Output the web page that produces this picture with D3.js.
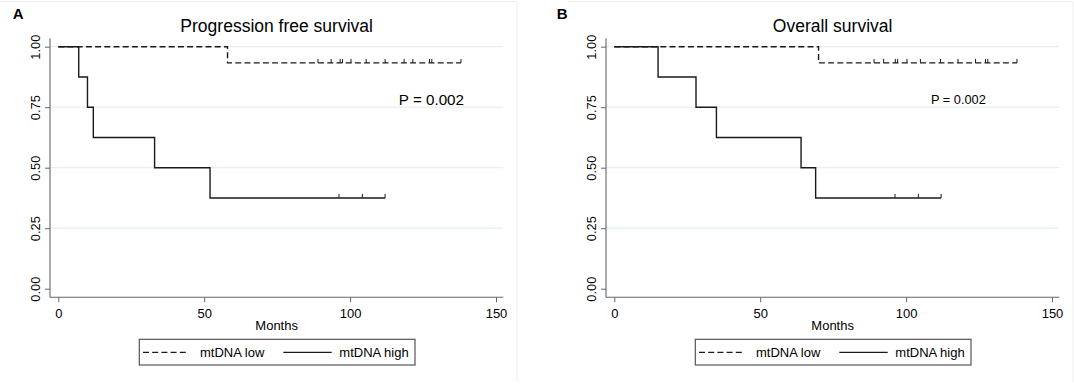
<!DOCTYPE html>
<html>
<head>
<meta charset="utf-8">
<script src="https://cdn.jsdelivr.net/npm/d3@7"></script>
<style>
  html, body { margin: 0; padding: 0; background: #fff; }
  svg { display: block; }
  text { font-family: "Liberation Sans", Arial, sans-serif; fill: #000; }
</style>
</head>
<body>
<svg id="chart" width="1074" height="384"></svg>
<script>
// ---------- DATA ----------
const panelLetters = ["A", "B"];
const panelTitles = ["Progression free survival", "Overall survival"];
const seriesNames = ["mtDNA low", "mtDNA high"];
const xTicks = [0, 50, 100, 150];
const yTicks = [0, 0.25, 0.5, 0.75, 1];
const xLabel = "Months";
const pValueText = "P = 0.002";

// Progression free survival – step times (months) and survival after each step
const pfsLowTimes = [0, 58, 138];
const pfsLowSurv = [1, 0.933, 0.933];
const pfsLowCensored = [89, 93.5, 96.6, 97.4, 100.3, 105.5, 112, 118.5, 121.5, 127.2, 128, 138];
const pfsHighTimes = [0, 7, 10, 12, 33, 52, 112];
const pfsHighSurv = [1, 0.875, 0.75, 0.625, 0.5, 0.375, 0.375];
const pfsHighCensored = [96.2, 104.2, 112];

// Overall survival
const osLowTimes = [0, 70, 138];
const osLowSurv = [1, 0.933, 0.933];
const osLowCensored = [89, 92.3, 96.3, 97.1, 100.3, 104.9, 111.8, 117.8, 123.8, 127.2, 128, 138];
const osHighTimes = [0, 15, 28, 35, 64, 69, 112];
const osHighSurv = [1, 0.875, 0.75, 0.625, 0.5, 0.375, 0.375];
const osHighCensored = [96.2, 104.2, 112];

// ---------- LAYOUT ----------
const svg = d3.select("#chart");
const panelOffsets = [0, 556];
const pAnnot = [ {x: 116.7, y: 0.76, size: 15.2}, {x: 108.5, y: 0.765, size: 12.8} ];

const panels = [
  { low: {t: pfsLowTimes, s: pfsLowSurv, c: pfsLowCensored},
    high: {t: pfsHighTimes, s: pfsHighSurv, c: pfsHighCensored} },
  { low: {t: osLowTimes, s: osLowSurv, c: osLowCensored},
    high: {t: osHighTimes, s: osHighSurv, c: osHighCensored} }
];

const lineColor = "#1a1a1a";
const axisColor = "#666";
const gridColor = "#e2eaee";
const dash = "6,3.2";
const fontFam = '"Liberation Sans", Arial, sans-serif';

function survAt(series, time) {
  let v = series.s[0];
  for (let i = 0; i < series.t.length; i++) {
    if (series.t[i] <= time) v = series.s[i];
  }
  return v;
}

panels.forEach((p, i) => {
  const ox = panelOffsets[i];
  const g = svg.append("g");

  // faint panel frame (top and right edges)
  const frameL = i === 0 ? 0 : ox + 12;
  g.append("line").attr("x1", frameL).attr("x2", ox + 517).attr("y1", 1.5).attr("y2", 1.5)
    .attr("stroke", "#efefef");
  g.append("line").attr("x1", ox + 517).attr("x2", ox + 517).attr("y1", 1.5).attr("y2", 382)
    .attr("stroke", "#efefef");

  const plotL = ox + 50, plotR = ox + 503.3, plotT = 38.3, plotB = 297.3;
  const x = d3.scaleLinear().domain([0, 150]).range([ox + 58.3, ox + 496]);
  const y = d3.scaleLinear().domain([0, 1]).range([288.7, 46.7]);

  // gridlines
  g.append("g").selectAll("line")
    .data(yTicks.filter(d => d > 0))
    .join("line")
    .attr("x1", plotL).attr("x2", plotR)
    .attr("y1", d => y(d)).attr("y2", d => y(d))
    .attr("stroke", gridColor).attr("stroke-width", 1);

  // axes
  const xAxis = g.append("g")
    .attr("transform", `translate(0,${plotB})`)
    .call(d3.axisBottom(x).tickValues(xTicks).tickSize(5).tickFormat(d3.format("d")));
  xAxis.select(".domain").remove();
  xAxis.selectAll(".tick line").attr("stroke", axisColor);
  xAxis.selectAll(".tick text")
    .attr("y", 11.5).attr("dy", "0.71em")
    .style("font-size", "13px").style("font-family", fontFam)
    .attr("fill", "#000");

  const yAxis = g.append("g")
    .attr("transform", `translate(${plotL},0)`)
    .call(d3.axisLeft(y).tickValues(yTicks).tickSize(5).tickFormat(d3.format(".2f")));
  yAxis.select(".domain").remove();
  yAxis.selectAll(".tick line").attr("stroke", axisColor);
  yAxis.selectAll(".tick text")
    .attr("x", null).attr("dy", null)
    .attr("transform", "translate(-10.5,0) rotate(-90)")
    .attr("text-anchor", "middle")
    .style("font-size", "12.8px").style("font-family", fontFam)
    .attr("fill", "#000");

  // axis lines
  g.append("line").attr("x1", plotL).attr("x2", plotR).attr("y1", plotB).attr("y2", plotB)
    .attr("stroke", axisColor).attr("stroke-width", 1.1);
  g.append("line").attr("x1", plotL).attr("x2", plotL).attr("y1", plotT).attr("y2", plotB)
    .attr("stroke", axisColor).attr("stroke-width", 1.1);

  // KM curves
  const drawSeries = (series, dashed) => {
    const pts = series.t.map((t, k) => [t, series.s[k]]);
    g.append("path")
      .datum(pts)
      .attr("d", d3.line().x(d => x(d[0])).y(d => y(d[1])).curve(d3.curveStepAfter))
      .attr("fill", "none")
      .attr("stroke", lineColor)
      .attr("stroke-width", 1.4)
      .attr("stroke-dasharray", dashed ? dash : null);
    g.append("g").selectAll("line")
      .data(series.c)
      .join("line")
      .attr("x1", d => x(d)).attr("x2", d => x(d))
      .attr("y1", d => y(survAt(series, d)))
      .attr("y2", d => y(survAt(series, d)) - 4)
      .attr("stroke", lineColor).attr("stroke-width", 1);
  };
  drawSeries(p.low, true);
  drawSeries(p.high, false);

  // Panel letter
  g.append("text").attr("x", ox + 12.7 - (i ? 12 : 0)).attr("y", 18.5)
    .style("font-size", "15px").style("font-weight", "bold")
    .text(panelLetters[i]);

  // Title
  g.append("text").attr("x", (plotL + plotR) / 2).attr("y", 32)
    .attr("text-anchor", "middle").style("font-size", "17.5px")
    .text(panelTitles[i]);

  // P value
  g.append("text").attr("x", x(pAnnot[i].x)).attr("y", y(pAnnot[i].y))
    .style("font-size", pAnnot[i].size + "px")
    .text(pValueText);

  // x label
  g.append("text").attr("x", (plotL + plotR) / 2).attr("y", 329.7)
    .attr("text-anchor", "middle").style("font-size", "13px")
    .text(xLabel);

  // Legend
  const lx = ox + 139.3, ly = 339.3;
  g.append("rect").attr("x", lx).attr("y", ly).attr("width", 275.7).attr("height", 25.7)
    .attr("fill", "#fff").attr("stroke", "#555").attr("stroke-width", 1.2);
  const legendItems = [
    {name: seriesNames[0], dashed: true, x0: 3.7, x1: 47.7, tx: 60.7},
    {name: seriesNames[1], dashed: false, x0: 144, x1: 192.4, tx: 200}
  ];
  legendItems.forEach(it => {
    g.append("line").attr("x1", lx + it.x0).attr("x2", lx + it.x1)
      .attr("y1", 352.3).attr("y2", 352.3)
      .attr("stroke", lineColor).attr("stroke-width", 1.3)
      .attr("stroke-dasharray", it.dashed ? dash : null);
    g.append("text").attr("x", lx + it.tx).attr("y", 356.8)
      .style("font-size", "13px").text(it.name);
  });
});
</script>
</body>
</html>
